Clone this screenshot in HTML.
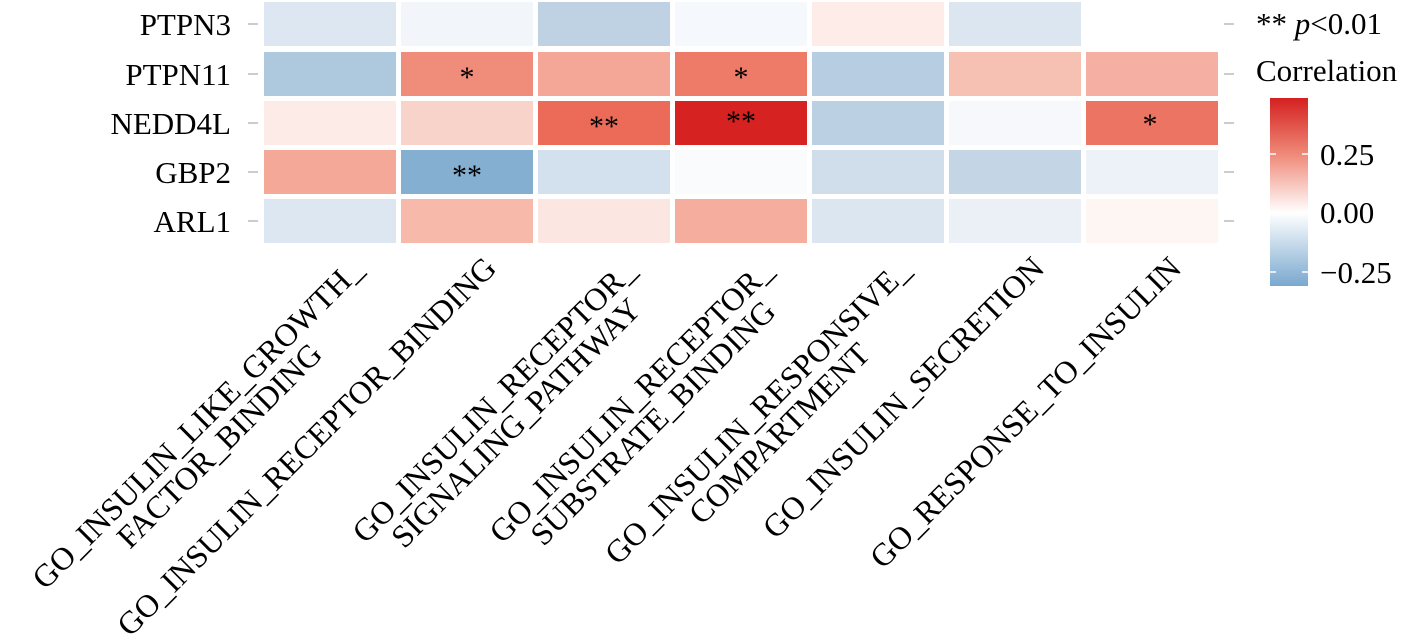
<!DOCTYPE html>
<html><head><meta charset="utf-8"><style>
html,body{margin:0;padding:0;background:#fff;}
svg{display:block;font-family:"Liberation Serif",serif;}
</style></head><body>
<svg width="1408" height="634" viewBox="0 0 1408 634" xmlns="http://www.w3.org/2000/svg">
<defs>
<linearGradient id="cb" x1="0" y1="0" x2="0" y2="1">
<stop offset="0" stop-color="#d42020"/>
<stop offset="0.3" stop-color="#ef8a78"/>
<stop offset="0.61" stop-color="#ffffff"/>
<stop offset="1" stop-color="#79a8cf"/>
</linearGradient>
</defs>
<rect width="1408" height="634" fill="#fff"/>
<g stroke="#cccccc" stroke-width="2">
<line x1="248" y1="24" x2="258" y2="24"/><line x1="248" y1="74" x2="258" y2="74"/>
<line x1="248" y1="123" x2="258" y2="123"/><line x1="248" y1="172" x2="258" y2="172"/>
<line x1="248" y1="221" x2="258" y2="221"/>
<line x1="1224" y1="24" x2="1234" y2="24"/><line x1="1224" y1="74" x2="1234" y2="74"/>
<line x1="1224" y1="123" x2="1234" y2="123"/><line x1="1224" y1="172" x2="1234" y2="172"/>
<line x1="1224" y1="221" x2="1234" y2="221"/>
</g>
<g font-size="31" text-anchor="end" fill="#000">
<text x="231" y="35">PTPN3</text>
<text x="231" y="85">PTPN11</text>
<text x="231" y="134">NEDD4L</text>
<text x="231" y="183">GBP2</text>
<text x="231" y="232">ARL1</text>
</g>
<g>
<rect x="264" y="2" width="132" height="44" fill="#dde7f1"/>
<rect x="401" y="2" width="132" height="44" fill="#f2f5fa"/>
<rect x="538" y="2" width="132" height="44" fill="#bfd2e4"/>
<rect x="675" y="2" width="132" height="44" fill="#f5f8fc"/>
<rect x="812" y="2" width="132" height="44" fill="#fdece8"/>
<rect x="949" y="2" width="132" height="44" fill="#dce6f0"/>

<rect x="264" y="52" width="132" height="44" fill="#aec8de"/>
<rect x="401" y="52" width="132" height="44" fill="#f08c7a"/>
<rect x="538" y="52" width="132" height="44" fill="#f4a797"/>
<rect x="675" y="52" width="132" height="44" fill="#ee7b68"/>
<rect x="812" y="52" width="132" height="44" fill="#b7cde2"/>
<rect x="949" y="52" width="132" height="44" fill="#f6c0b3"/>
<rect x="1086" y="52" width="132" height="44" fill="#f5b0a3"/>

<rect x="264" y="101" width="132" height="44" fill="#fcebe6"/>
<rect x="401" y="101" width="132" height="44" fill="#f8d3c9"/>
<rect x="538" y="101" width="132" height="44" fill="#ec6b58"/>
<rect x="675" y="101" width="132" height="44" fill="#d62220"/>
<rect x="812" y="101" width="132" height="44" fill="#bcd0e4"/>
<rect x="949" y="101" width="132" height="44" fill="#f6f8fc"/>
<rect x="1086" y="101" width="132" height="44" fill="#ec7462"/>

<rect x="264" y="150" width="132" height="44" fill="#f4a898"/>
<rect x="401" y="150" width="132" height="44" fill="#85afd0"/>
<rect x="538" y="150" width="132" height="44" fill="#d3e1ee"/>
<rect x="675" y="150" width="132" height="44" fill="#fafbfd"/>
<rect x="812" y="150" width="132" height="44" fill="#d0ddeb"/>
<rect x="949" y="150" width="132" height="44" fill="#c4d5e6"/>
<rect x="1086" y="150" width="132" height="44" fill="#edf2f8"/>

<rect x="264" y="199" width="132" height="44" fill="#dde7f2"/>
<rect x="401" y="199" width="132" height="44" fill="#f7b9aa"/>
<rect x="538" y="199" width="132" height="44" fill="#fce6e1"/>
<rect x="675" y="199" width="132" height="44" fill="#f5ad9e"/>
<rect x="812" y="199" width="132" height="44" fill="#dce6f0"/>
<rect x="949" y="199" width="132" height="44" fill="#ebf0f7"/>
<rect x="1086" y="199" width="132" height="44" fill="#fef6f3"/>
</g>
<g font-size="30" text-anchor="middle" fill="#000">
<text x="467" y="87">*</text>
<text x="741" y="87">*</text>
<text x="604" y="136">**</text>
<text x="741" y="131">**</text>
<text x="1150" y="134">*</text>
<text x="467" y="185">**</text>
</g>
<g font-size="32" fill="#000">
<g transform="translate(364,272) rotate(-45)">
<text x="-225" y="0" text-anchor="middle">GO_INSULIN_LIKE_GROWTH_</text>
<text x="-225" y="31" text-anchor="middle">FACTOR_BINDING</text>
</g>
<g transform="translate(498,270) rotate(-45)"><text x="0" y="0" text-anchor="end">GO_INSULIN_RECEPTOR_BINDING</text></g>
<g transform="translate(638,272) rotate(-45)">
<text x="-193" y="0" text-anchor="middle">GO_INSULIN_RECEPTOR_</text>
<text x="-193" y="31" text-anchor="middle">SIGNALING_PATHWAY</text>
</g>
<g transform="translate(775,272) rotate(-45)">
<text x="-193" y="0" text-anchor="middle">GO_INSULIN_RECEPTOR_</text>
<text x="-193" y="31" text-anchor="middle">SUBSTRATE_BINDING</text>
</g>
<g transform="translate(912,272) rotate(-45)">
<text x="-208" y="0" text-anchor="middle">GO_INSULIN_RESPONSIVE_</text>
<text x="-208" y="31" text-anchor="middle">COMPARTMENT</text>
</g>
<g transform="translate(1046,270) rotate(-45)"><text x="0" y="0" text-anchor="end">GO_INSULIN_SECRETION</text></g>
<g transform="translate(1183,270) rotate(-45)"><text x="0" y="0" text-anchor="end">GO_RESPONSE_TO_INSULIN</text></g>
</g>
<text x="1256" y="34" font-size="31">** <tspan font-style="italic">p</tspan>&lt;0.01</text>
<text x="1256" y="81" font-size="31">Correlation</text>
<rect x="1270" y="98" width="38" height="188" fill="url(#cb)"/>
<g stroke="#fff" stroke-width="1.5">
<line x1="1270" y1="154" x2="1276" y2="154"/><line x1="1302" y1="154" x2="1308" y2="154"/>
<line x1="1270" y1="212" x2="1276" y2="212"/><line x1="1302" y1="212" x2="1308" y2="212"/>
<line x1="1270" y1="272" x2="1276" y2="272"/><line x1="1302" y1="272" x2="1308" y2="272"/>
</g>
<g font-size="31" fill="#000">
<text x="1320" y="165">0.25</text>
<text x="1320" y="223">0.00</text>
<text x="1320" y="283">−0.25</text>
</g>
</svg>
</body></html>
